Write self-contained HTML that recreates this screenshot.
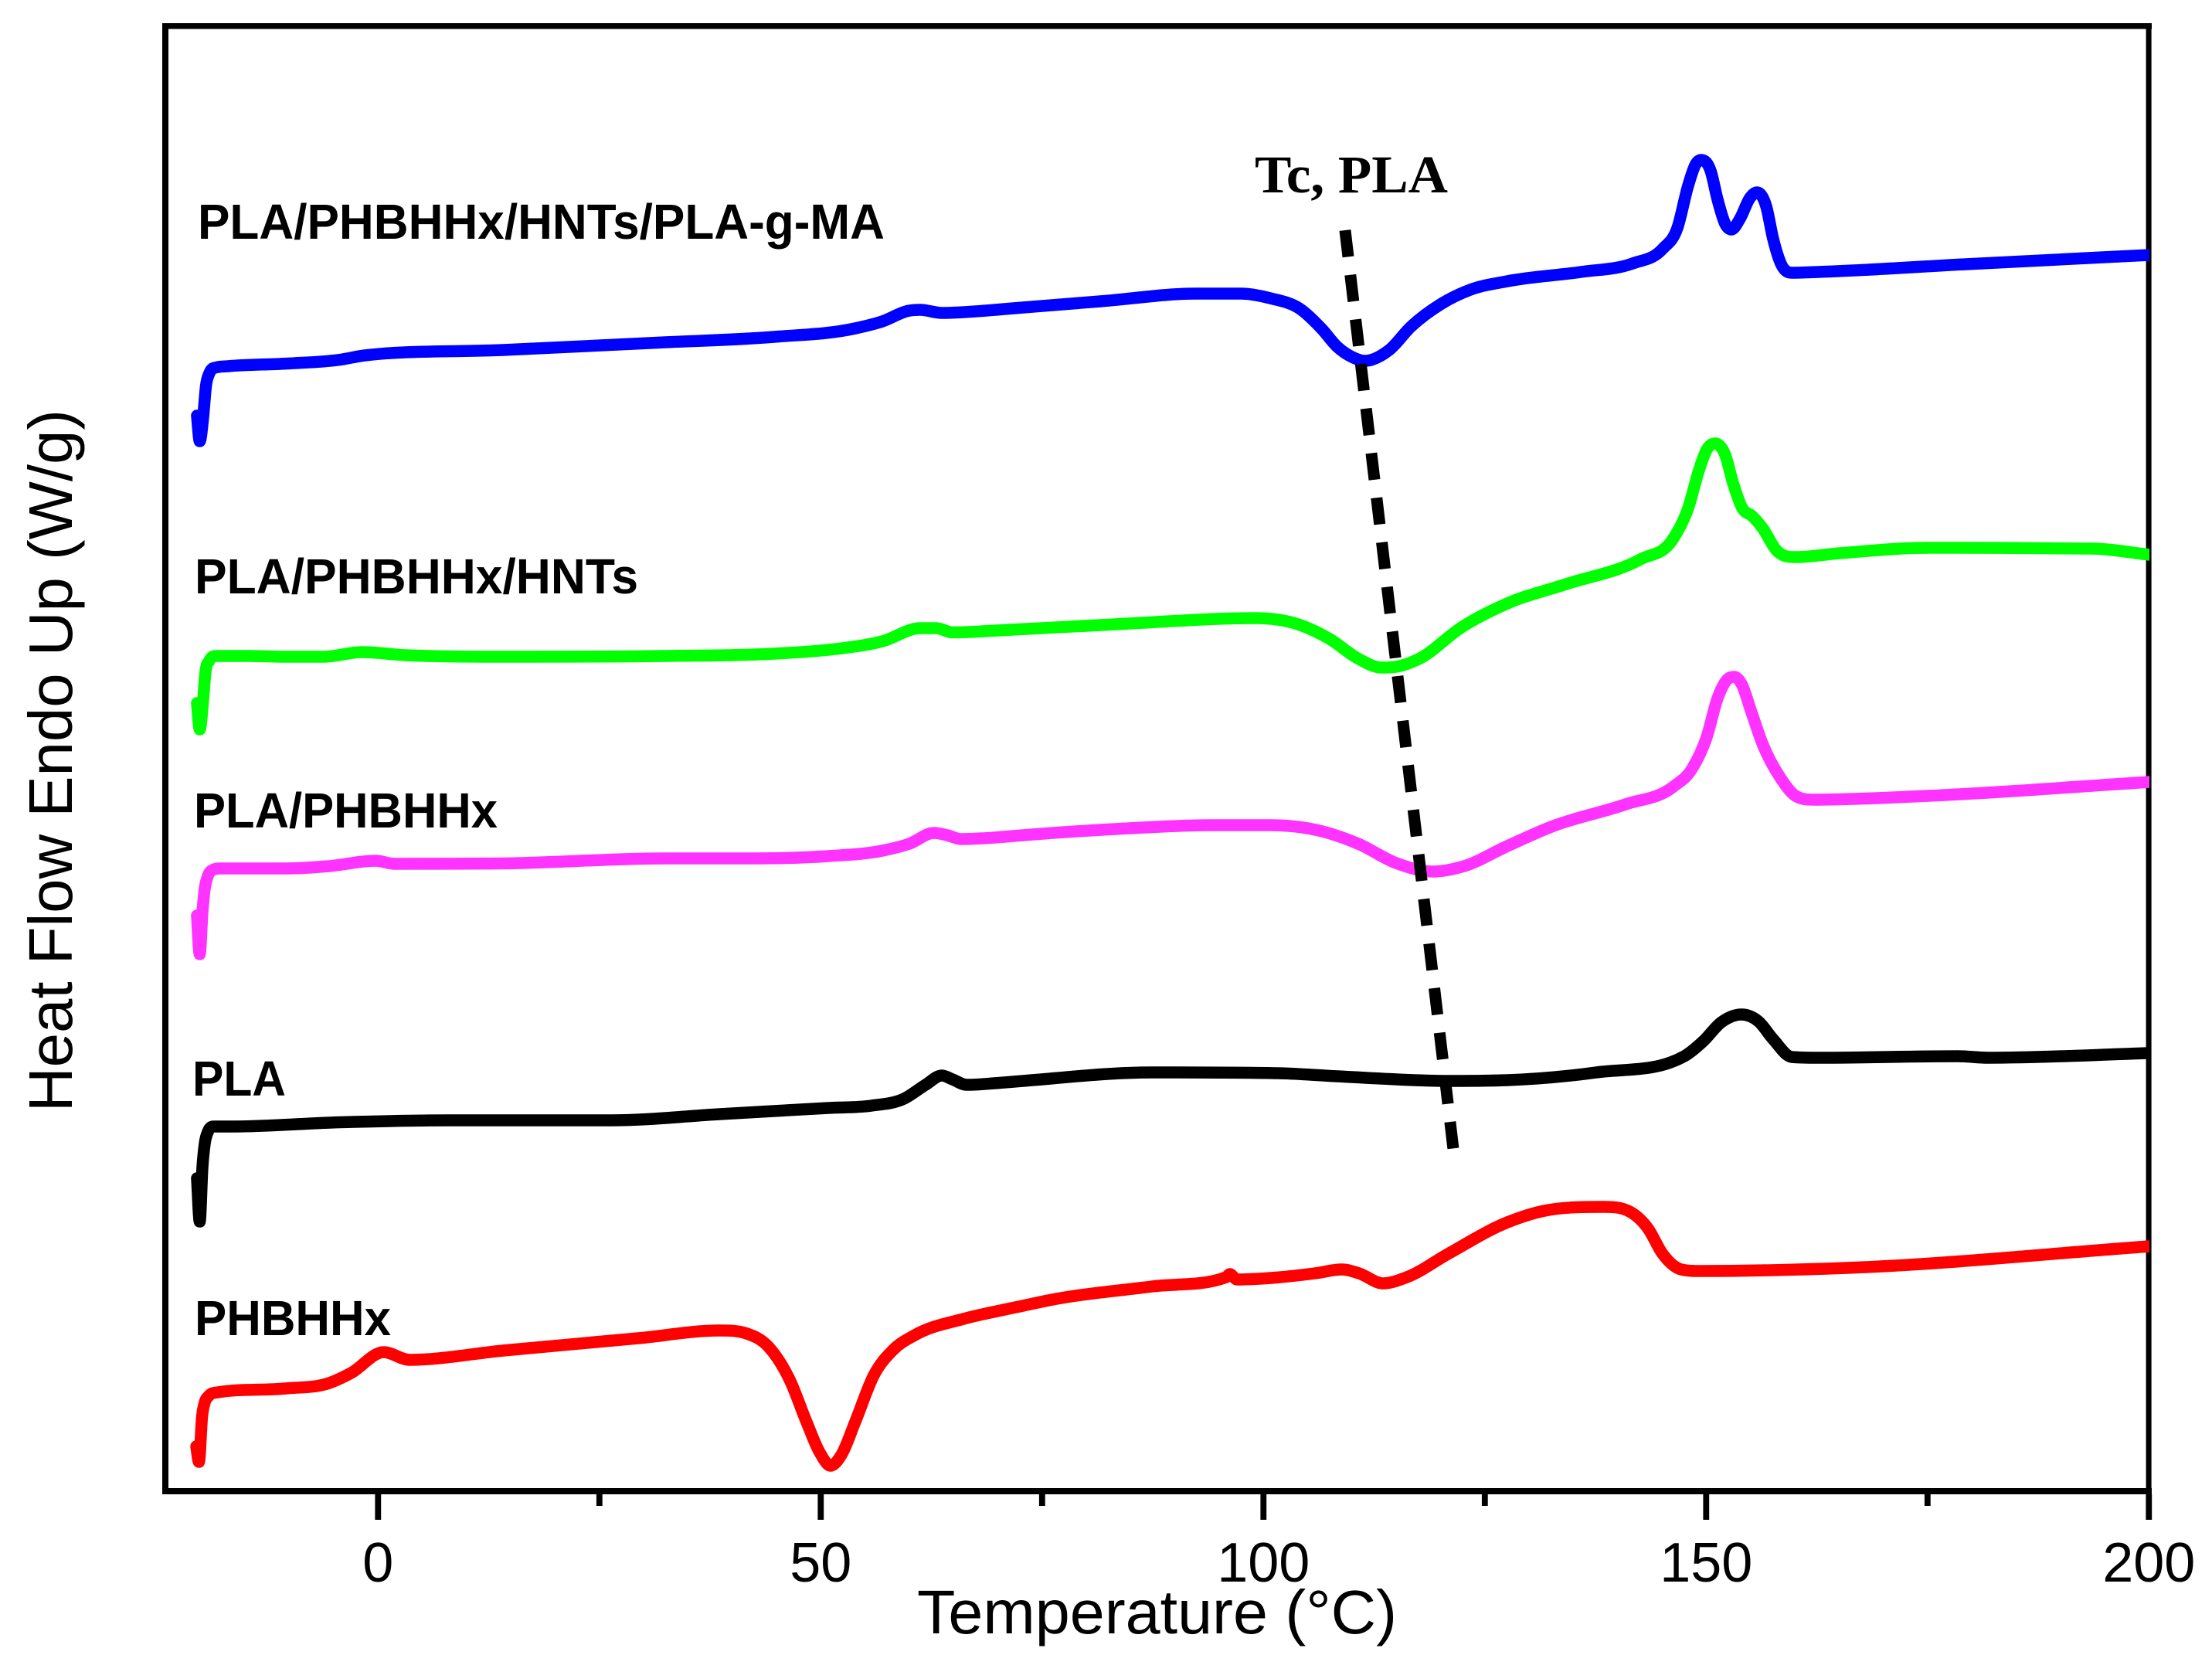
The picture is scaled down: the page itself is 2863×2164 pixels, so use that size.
<!DOCTYPE html>
<html lang="en">
<head>
<meta charset="utf-8">
<title>DSC Heat Flow Curves</title>
<style>
html,body{margin:0;padding:0;background:#fff;}
svg{display:block;}
text{fill:#000;}
.tick-label,.axis-title{font-family:"Liberation Sans",Arial,sans-serif;}
.tick-label{font-size:72px;text-anchor:middle;}
.axis-title{font-size:80px;}
.series-label{font-family:"Liberation Sans",Arial,sans-serif;font-weight:bold;font-size:64px;}
.annotation{font-family:"Liberation Serif","Times New Roman",serif;font-weight:bold;font-size:69px;}
</style>
</head>
<body>
<svg id="chart" xmlns="http://www.w3.org/2000/svg" width="2863" height="2164" viewBox="0 0 2863 2164">
  <rect x="0" y="0" width="2863" height="2164" fill="#fff"/>
  <defs>
    <clipPath id="plot-clip"><rect x="200" y="30" width="2582" height="1900"/></clipPath>
  </defs>
  <g id="axes">
    <rect x="210" y="30" width="2575" height="7.5" fill="#000"/>
    <rect x="210" y="30" width="8" height="1904" fill="#000"/>
    <rect x="2777.6" y="30" width="7" height="1904" fill="#000"/>
    <rect x="210" y="1926" width="2575" height="8" fill="#000"/>
  </g>
  <g id="ticks"></g>
  <g id="series" clip-path="url(#plot-clip)"></g>
  <g id="annotation-line"></g>

  <text class="series-label" x="256" y="309" textLength="889" lengthAdjust="spacingAndGlyphs">PLA/PHBHHx/HNTs/PLA-g-MA</text>
  <text class="series-label" x="252" y="768" textLength="574" lengthAdjust="spacingAndGlyphs">PLA/PHBHHx/HNTs</text>
  <text class="series-label" x="251" y="1071" textLength="393" lengthAdjust="spacingAndGlyphs">PLA/PHBHHx</text>
  <text class="series-label" x="249" y="1418" textLength="121" lengthAdjust="spacingAndGlyphs">PLA</text>
  <text class="series-label" x="252" y="1728" textLength="254" lengthAdjust="spacingAndGlyphs">PHBHHx</text>
  <text class="annotation" x="1624" y="249" textLength="250" lengthAdjust="spacingAndGlyphs">Tc, PLA</text>

  <text class="axis-title" x="1187" y="2114" textLength="621" lengthAdjust="spacingAndGlyphs">Temperature (°C)</text>
  <text class="axis-title" transform="translate(93,1439) rotate(-90)" x="0" y="0" textLength="909" lengthAdjust="spacingAndGlyphs">Heat Flow Endo Up (W/g)</text>
</svg>
<script>
const majorTicks = [0, 50, 100, 150, 200];
const minorTicks = [25, 75, 125, 175];

const blendMaTemps = [-20.45,-20.14,-19.75,-19.44,-19.05,-18.26,-16.95,-10.41,-4.26,-1.51,14.11,32.44,44.74,53.90,56.95,60.01,61.23,63.67,70.74,72.84,81.57,92.47,97.44,100.76,104.16,106.61,108.35,110.0,111.42,114.20,116.64,120.05,123.36,127.55,135.84,141.69,145.09,146.75,147.97,148.84,149.45,150.50,151.28,152.16,152.86,153.82,154.95,155.73,156.78,157.56,158.43,159.66,162.62,179.29,200.13];
const blendMaFlow = [139.2,135.9,139.0,143.0,144.7,145.45,145.6,145.94,146.45,147.0,147.7,148.7,149.4,150.5,151.4,152.8,152.9,152.5,153.0,153.2,154.0,155.0,155.0,154.4,153.0,150.4,148.1,146.8,146.3,147.7,150.7,153.65,155.5,156.6,157.8,158.9,160.8,163.5,169.0,171.8,172.3,170.9,167.2,164.0,163.3,164.7,167.4,168.1,166.3,162.1,158.9,157.7,157.8,158.8,160.0];

const blendHntTemps = [-20.45,-20.14,-19.75,-19.49,-19.05,-18.26,-14.69,-10.41,-6.13,-1.82,3.12,14.11,32.44,44.74,52.07,56.95,61.23,63.06,64.88,70.74,83.26,99.10,104.16,107.48,110.79,113.32,114.98,117.52,122.49,127.55,134.18,142.56,146.31,147.97,149.23,150.06,151.02,152.16,153.03,154.07,155.21,156.34,158.00,160.09,165.07,175.11,193.52,200.13];
const blendHntFlow = [102.0,98.6,102.5,106.0,107.5,108.1,108.1,108.0,108.0,108.6,108.2,108.0,108.1,108.4,109.05,110.0,111.7,111.7,111.15,111.45,112.2,113.0,112.1,110.3,107.7,106.6,106.7,107.7,111.9,114.9,117.4,120.6,123.35,127.25,132.3,134.8,135.6,134.1,130.5,127.25,126.2,124.7,121.7,120.9,121.4,122.1,122.0,121.2];

const blendTemps = [-20.45,-20.14,-19.83,-19.57,-19.26,-18.70,-17.83,-10.41,-5.52,-0.29,1.86,14.11,32.44,41.65,50.85,56.95,60.01,62.77,64.28,65.86,70.74,72.84,83.26,94.13,100.76,106.65,110.79,114.98,119.17,122.49,127.55,132.52,140.90,146.31,148.40,150.06,151.28,152.42,153.16,153.99,155.08,156.34,158.43,160.09,162.19,175.11,200.13];
const blendFlow = [74.5,69.5,75.0,78.0,79.5,80.4,80.6,80.6,80.9,81.6,81.2,81.25,81.9,81.9,82.2,82.9,83.8,85.2,84.9,84.4,84.7,84.9,85.7,86.2,86.2,85.4,83.75,81.3,80.2,80.84,83.5,86.0,88.9,91.2,93.5,97.6,102.6,105.1,105.4,104.5,100.95,96.8,92.25,90.0,89.5,90.0,91.8];

const plaTemps = [-20.45,-20.14,-19.83,-19.57,-19.22,-18.53,-16.52,-4.26,8.00,26.34,38.59,50.85,55.73,59.40,61.84,63.67,64.88,66.47,70.74,72.84,87.41,101.63,108.35,120.83,127.55,137.58,147.53,149.63,151.72,153.99,155.91,157.56,159.66,162.62,178.42,181.82,200.13];
const plaFlow = [40.5,34.9,42.0,45.0,46.5,47.2,47.2,47.75,48.0,48.0,48.8,49.6,49.9,50.8,52.6,53.8,53.3,52.6,52.9,53.1,54.2,54.1,53.7,53.1,53.2,54.2,56.3,58.2,60.7,61.7,60.8,58.5,56.2,56.1,56.3,56.1,56.7];

const phbhhxTemps = [-20.53,-20.23,-19.87,-19.57,-19.14,-18.09,-10.41,-5.52,-3.04,0.64,3.55,14.11,29.38,38.59,41.65,44.09,46.54,48.38,49.89,51.11,52.33,53.90,55.99,58.18,60.62,66.12,70.74,72.84,75.72,87.41,95.79,96.2,97.0,99.54,105.82,108.87,110.79,113.50,116.20,120.83,127.55,131.74,138.37,141.34,143.43,145.09,147.18,149.28,165.94,200.13];
const phbhhxFlow = [5.8,3.8,9.7,11.5,12.3,12.8,13.3,14.0,15.3,18.0,17.0,18.2,19.8,20.8,20.4,18.7,14.3,9.0,5.0,3.3,4.7,9.0,15.0,18.3,20.2,22.3,23.5,24.0,24.7,26.5,27.7,28.1,27.4,27.5,28.2,28.7,28.2,26.9,27.7,30.7,34.8,36.3,36.8,36.2,34.0,30.7,28.7,28.5,28.9,31.7];

const tcTrendTemps = [109.22, 121.44];
const tcTrendFlow = [163.2, 44.3];

const SVG_NS = 'http://www.w3.org/2000/svg';

function xScale(temp) {
  return 489.3 + 11.46 * temp;
}
function yScale(flow) {
  return 1930 - 10 * flow;
}

function smoothPath(xs, ys) {
  const n = xs.length;
  const dx = [], slope = [], m = new Array(n);
  for (let i = 0; i < n - 1; i++) {
    dx[i] = xs[i + 1] - xs[i];
    slope[i] = (ys[i + 1] - ys[i]) / dx[i];
  }
  m[0] = slope[0];
  m[n - 1] = slope[n - 2];
  for (let i = 1; i < n - 1; i++) {
    if (slope[i - 1] * slope[i] <= 0) {
      m[i] = 0;
    } else {
      const p = (dx[i] * slope[i - 1] + dx[i - 1] * slope[i]) / (dx[i] + dx[i - 1]);
      const limit = 3 * Math.min(Math.abs(slope[i - 1]), Math.abs(slope[i]));
      m[i] = Math.sign(p) * Math.min(Math.abs(p), limit);
    }
  }
  let d = 'M' + xs[0].toFixed(2) + ' ' + ys[0].toFixed(2);
  for (let i = 0; i < n - 1; i++) {
    const h = dx[i] / 3;
    d += 'C' + (xs[i] + h).toFixed(2) + ' ' + (ys[i] + m[i] * h).toFixed(2) + ' ' +
         (xs[i + 1] - h).toFixed(2) + ' ' + (ys[i + 1] - m[i + 1] * h).toFixed(2) + ' ' +
         xs[i + 1].toFixed(2) + ' ' + ys[i + 1].toFixed(2);
  }
  return d;
}

const seriesGroup = document.getElementById('series');

function drawSeries(temps, flow, color, name) {
  const el = document.createElementNS(SVG_NS, 'path');
  el.setAttribute('d', smoothPath(temps.map(xScale), flow.map(yScale)));
  el.setAttribute('fill', 'none');
  el.setAttribute('stroke', color);
  el.setAttribute('stroke-width', '15.5');
  el.setAttribute('stroke-linejoin', 'round');
  el.setAttribute('stroke-linecap', 'round');
  
  
  seriesGroup.appendChild(el);
}

drawSeries(phbhhxTemps, phbhhxFlow, '#ff0000', 'curve-phbhhx');
drawSeries(plaTemps, plaFlow, '#000000', 'curve-pla');
drawSeries(blendTemps, blendFlow, '#ff33ff', 'curve-pla-phbhhx');
drawSeries(blendHntTemps, blendHntFlow, '#00ff00', 'curve-pla-phbhhx-hnts');
drawSeries(blendMaTemps, blendMaFlow, '#0000ff', 'curve-pla-phbhhx-hnts-pla-g-ma');

const tickGroup = document.getElementById('ticks');

majorTicks.forEach(function (value) {
  const tick = document.createElementNS(SVG_NS, 'rect');
  tick.setAttribute('x', xScale(value) - 3.9);
  tick.setAttribute('y', 1934);
  tick.setAttribute('width', 7.8);
  tick.setAttribute('height', 33);
  tick.setAttribute('fill', '#000');
  
  
  tickGroup.appendChild(tick);

  const label = document.createElementNS(SVG_NS, 'text');
  label.setAttribute('class', 'tick-label');
  label.setAttribute('x', xScale(value));
  label.setAttribute('y', 2047);
  label.textContent = String(value);
  
  
  tickGroup.appendChild(label);
});

minorTicks.forEach(function (value) {
  const tick = document.createElementNS(SVG_NS, 'rect');
  tick.setAttribute('x', xScale(value) - 3.9);
  tick.setAttribute('y', 1934);
  tick.setAttribute('width', 7.8);
  tick.setAttribute('height', 15);
  tick.setAttribute('fill', '#000');
  
  
  tickGroup.appendChild(tick);
});

const trend = document.createElementNS(SVG_NS, 'line');
trend.setAttribute('x1', xScale(tcTrendTemps[0]));
trend.setAttribute('y1', yScale(tcTrendFlow[0]));
trend.setAttribute('x2', xScale(tcTrendTemps[1]));
trend.setAttribute('y2', yScale(tcTrendFlow[1]));
trend.setAttribute('stroke', '#000');
trend.setAttribute('stroke-width', '15');
trend.setAttribute('stroke-dasharray', '34.6 23.5');


document.getElementById('annotation-line').appendChild(trend);
</script>
</body>
</html>
